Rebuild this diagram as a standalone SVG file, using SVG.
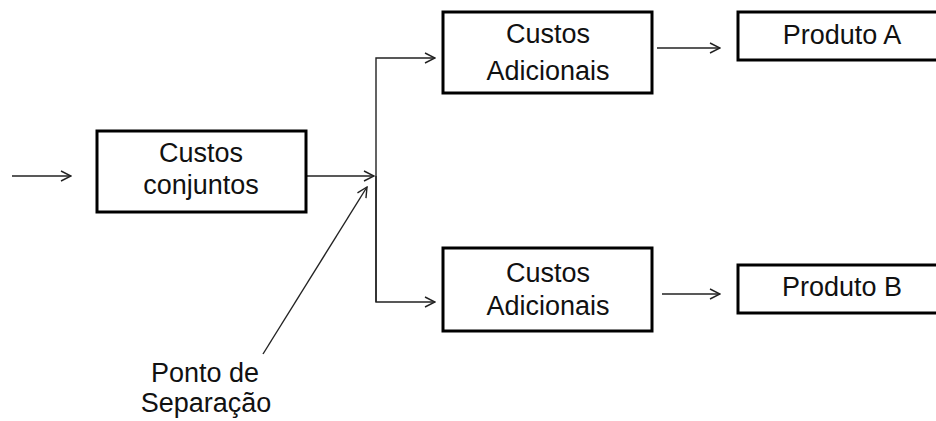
<svg xmlns="http://www.w3.org/2000/svg" width="936" height="421" viewBox="0 0 936 421">
<defs>
<marker id="arr" viewBox="0 0 12 12" refX="11" refY="6" markerWidth="12" markerHeight="12" markerUnits="userSpaceOnUse" orient="auto">
<path d="M1,1 L11,6 L1,11" fill="none" stroke="#222" stroke-width="1.4"/>
</marker>
<style>
.box{fill:#fff;stroke:#000;stroke-width:3}
.t{font-family:"Liberation Sans",Arial,sans-serif;font-size:27px;fill:#111;text-anchor:middle}
.c{fill:none;stroke:#222;stroke-width:1.4}
</style>
</defs>
<rect width="936" height="421" fill="#fff"/>
<g id="connectors">
<line class="c" x1="12" y1="176" x2="71" y2="176" marker-end="url(#arr)"/>
<line class="c" x1="306" y1="176" x2="374" y2="176" marker-end="url(#arr)"/>
<polyline class="c" points="376,302 376,58 435,58" marker-end="url(#arr)"/>
<polyline class="c" points="376,176 376,302 435,302" marker-end="url(#arr)"/>
<line class="c" x1="657" y1="48" x2="720" y2="48" marker-end="url(#arr)"/>
<line class="c" x1="662" y1="294" x2="720" y2="294" marker-end="url(#arr)"/>
<line class="c" x1="263" y1="354" x2="367" y2="187" marker-end="url(#arr)"/>
</g>
<g id="custos-conjuntos">
<rect class="box" x="97" y="131" width="209" height="81"/>
<text class="t" x="201" y="162">Custos</text>
<text class="t" x="201" y="194">conjuntos</text>
</g>
<g id="custos-adicionais-1">
<rect class="box" x="443" y="12" width="209" height="81"/>
<text class="t" x="548" y="43">Custos</text>
<text class="t" x="548" y="80">Adicionais</text>
</g>
<g id="custos-adicionais-2">
<rect class="box" x="443" y="248" width="209" height="83"/>
<text class="t" x="548" y="282">Custos</text>
<text class="t" x="548" y="315">Adicionais</text>
</g>
<g id="produto-a">
<rect class="box" x="738" y="12" width="210" height="48"/>
<text class="t" x="842" y="44">Produto A</text>
</g>
<g id="produto-b">
<rect class="box" x="738" y="265" width="210" height="48"/>
<text class="t" x="842" y="296">Produto B</text>
</g>
<g id="ponto-de-separacao">
<text class="t" x="205" y="382">Ponto de</text>
<text class="t" x="206" y="412">Separação</text>
</g>
</svg>
